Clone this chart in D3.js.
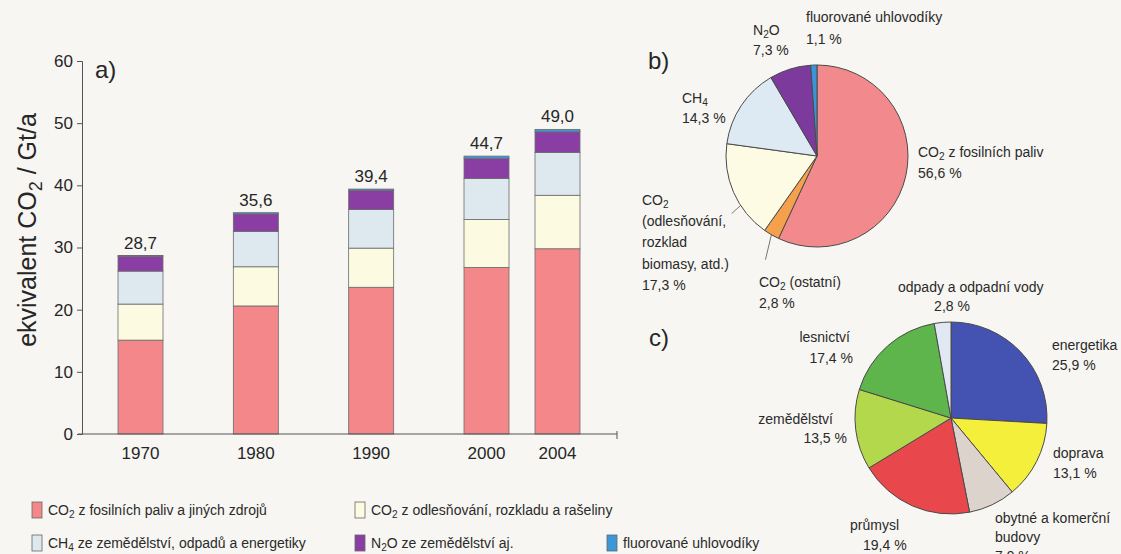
<!DOCTYPE html>
<html>
<head>
<meta charset="utf-8">
<script src="https://cdn.jsdelivr.net/npm/d3@7"></script>
<style>
  html, body { margin: 0; padding: 0; background: #f7f6f2; }
  svg { display: block; }
  .ax { font-family: "Liberation Sans", Arial, sans-serif; fill: #262626; }
  .nar { font-family: "Liberation Sans Narrow", "Liberation Sans", Arial, sans-serif; fill: #2a2a2a; }
</style>
</head>
<body>
<svg id="chart" width="1121" height="554"></svg>
<script>
// ---- a) yearly emissions, Gt CO2-eq per year ----
const years = [1970, 1980, 1990, 2000, 2004];
const co2Fossil = [15.1, 20.6, 23.6, 26.8, 29.8];
const co2Forest = [5.8, 6.3, 6.3, 7.7, 8.6];
const ch4Values = [5.3, 5.7, 6.2, 6.6, 6.9];
const n2oValues = [2.4, 2.8, 3.1, 3.2, 3.3];
const fgasValues = [0.1, 0.2, 0.2, 0.4, 0.4];
const yTicks = [0, 10, 20, 30, 40, 50, 60];

// ---- b) share of gases in 2004 (%) ----
const gasShares = [56.6, 2.8, 17.3, 14.3, 7.3, 1.1];

// ---- c) share of sectors in 2004 (%) ----
const sectorShares = [25.9, 13.1, 7.9, 19.4, 13.5, 17.4, 2.8];

const fmt = v => v.toFixed(1).replace(".", ",");
const pct = v => fmt(v) + " %";

const svg = d3.select("#chart");

// write a text made of parts; parts with sub:true are drawn as subscripts
function rich(sel, parts, size) {
  const shift = size * 0.22;
  let lowered = false;
  parts.forEach(p => {
    const ts = sel.append("tspan").text(p.t);
    if (p.sub) {
      ts.attr("font-size", size * 0.72).attr("dy", shift);
      lowered = true;
    } else if (lowered) {
      ts.attr("dy", -shift);
      lowered = false;
    }
  });
  return sel;
}

// ================= a) stacked bars =================
const barColors = ["#f4878a", "#fcfbe1", "#dde8ef", "#8a3ea4", "#3c97d8"];
const seriesList = [co2Fossil, co2Forest, ch4Values, n2oValues, fgasValues];
const rows = years.map((yr, i) => {
  const r = { year: yr };
  seriesList.forEach((s, k) => r["s" + k] = s[i]);
  return r;
});
const keys = seriesList.map((_, k) => "s" + k);
const stacked = d3.stack().keys(keys)(rows);

const y = d3.scaleLinear().domain([0, 60]).range([434, 61]);
// uneven spacing: equal steps for the decades, a shorter one for 2000 -> 2004
const x = d3.scaleLinear().domain([1970, 2000, 2004]).range([140.5, 486.5, 557.5]);
const barW = 45;

const gA = svg.append("g");
gA.selectAll("g.layer").data(stacked).join("g")
  .attr("class", "layer")
  .attr("fill", (d, i) => barColors[i])
  .selectAll("rect").data(d => d).join("rect")
  .attr("x", d => x(d.data.year) - barW / 2)
  .attr("width", barW)
  .attr("y", d => y(d[1]))
  .attr("height", d => y(d[0]) - y(d[1]))
  .attr("stroke", "#6b6b6b")
  .attr("stroke-width", 0.8);

// totals above the bars
gA.selectAll("text.total").data(rows).join("text")
  .attr("class", "ax total")
  .attr("x", d => x(d.year))
  .attr("y", d => y(d3.sum(keys, k => d[k])) - 7)
  .attr("text-anchor", "middle")
  .attr("font-size", 17)
  .text(d => fmt(d3.sum(keys, k => d[k])));

// y axis
const yAxis = d3.axisLeft(y).tickValues(yTicks).tickSize(5).tickPadding(4);
const gy = gA.append("g").attr("transform", "translate(82,0)").call(yAxis);
gy.select(".domain").attr("stroke", "#555");
gy.selectAll(".tick line").attr("stroke", "#555");
gy.selectAll(".tick text").attr("class", "ax").attr("font-size", 17).attr("fill", "#262626");

// x axis baseline with years
const gx = gA.append("g").attr("transform", "translate(0,434)");
gx.append("line").attr("x1", 78).attr("x2", 617).attr("stroke", "#555");
gx.append("line").attr("x1", 617).attr("x2", 617).attr("y1", -3).attr("y2", 5).attr("stroke", "#555");
gx.selectAll("text").data(years).join("text")
  .attr("class", "ax")
  .attr("x", d => x(d))
  .attr("y", 25)
  .attr("text-anchor", "middle")
  .attr("font-size", 17)
  .text(d => d);

// y title
const yTitle = gA.append("text").attr("class", "ax")
  .attr("transform", "translate(36,230) rotate(-90)")
  .attr("text-anchor", "middle")
  .attr("font-size", 25)
  .attr("fill", "#333");
rich(yTitle, [{ t: "ekvivalent CO" }, { t: "2", sub: true }, { t: "  /  Gt/a" }], 25);

gA.append("text").attr("class", "ax").attr("x", 95).attr("y", 78).attr("font-size", 24).text("a)");

// ================= b) gases pie =================
const gasColors = ["#f28a8d", "#f5a04d", "#fdfbe3", "#deeaf3", "#7d3a9d", "#3a95d8"];
const pieB = d3.pie().sort(null).value(d => d)(gasShares);
const rB = 91;
const cB = [817, 156];
const arcB = d3.arc().innerRadius(0).outerRadius(rB);
const gB = svg.append("g").attr("transform", `translate(${cB[0]},${cB[1]})`);
gB.selectAll("path").data(pieB).join("path")
  .attr("d", arcB)
  .attr("fill", (d, i) => gasColors[i])
  .attr("stroke", "#4a4a4a")
  .attr("stroke-width", 1);

// leader lines from the pie edge to the labels underneath
function edgePoint(d, frac, rad) {
  const a = d.startAngle + (d.endAngle - d.startAngle) * frac;
  return [Math.sin(a) * rad, -Math.cos(a) * rad];
}
const lead1 = edgePoint(pieB[1], 0.5, rB);
gB.append("line").attr("x1", lead1[0]).attr("y1", lead1[1])
  .attr("x2", lead1[0] - 6).attr("y2", lead1[1] + 25).attr("stroke", "#555").attr("stroke-width", 0.8);
const lead2 = edgePoint(pieB[2], 0.35, rB);
gB.append("line").attr("x1", lead2[0]).attr("y1", lead2[1])
  .attr("x2", lead2[0] - 9).attr("y2", lead2[1] + 8).attr("stroke", "#555").attr("stroke-width", 0.8);

svg.append("text").attr("class", "ax").attr("x", 648).attr("y", 69).attr("font-size", 24).text("b)");

const lsB = 14;
function label(lines, xPos, yPos, anchor, step, size) {
  const s = size || lsB;
  lines.forEach((ln, i) => {
    const t = svg.append("text").attr("class", "nar")
      .attr("x", xPos).attr("y", yPos + i * step)
      .attr("text-anchor", anchor || "start")
      .attr("font-size", s);
    rich(t, typeof ln === "string" ? [{ t: ln }] : ln, s);
  });
}
label([[{ t: "CO" }, { t: "2", sub: true }, { t: " z fosilních paliv" }], pct(gasShares[0])], 918, 157, "start", 21);
label([[{ t: "CO" }, { t: "2", sub: true }, { t: " (ostatní)" }], pct(gasShares[1])], 759, 287, "start", 21);
label([[{ t: "CO" }, { t: "2", sub: true }], "(odlesňování,", "rozklad", "biomasy, atd.)", pct(gasShares[2])], 642, 205, "start", 21.2);
label([[{ t: "CH" }, { t: "4", sub: true }], pct(gasShares[3])], 682, 103, "start", 20);
label([[{ t: "N" }, { t: "2", sub: true }, { t: "O" }], pct(gasShares[4])], 753, 35, "start", 19.5);
label(["fluorované uhlovodíky", pct(gasShares[5])], 806, 22, "start", 22);

// ================= c) sectors pie =================
const sectorColors = ["#4452b1", "#f4ef3a", "#dcd3cc", "#e8474b", "#b4d84c", "#5db54c", "#e0e9f1"];
const pieC = d3.pie().sort(null).value(d => d)(sectorShares);
const rC = 96;
const cC = [951, 418];
const arcC = d3.arc().innerRadius(0).outerRadius(rC);
const gC = svg.append("g").attr("transform", `translate(${cC[0]},${cC[1]})`);
gC.selectAll("path").data(pieC).join("path")
  .attr("d", arcC)
  .attr("fill", (d, i) => sectorColors[i])
  .attr("stroke", "#4a4a4a")
  .attr("stroke-width", 1);

svg.append("text").attr("class", "ax").attr("x", 649).attr("y", 346).attr("font-size", 24).text("c)");

label(["odpady a odpadní vody"], 898, 292, "start", 20);
label([pct(sectorShares[6])], 952, 311, "middle", 20);
label(["energetika", pct(sectorShares[0])], 1052, 350, "start", 19.5);
label(["lesnictví"], 850, 342, "end", 20);
label([pct(sectorShares[5])], 853, 363, "end", 20);
label(["zemědělství"], 833, 424, "end", 20);
label([pct(sectorShares[4])], 847, 443, "end", 20);
label(["doprava", pct(sectorShares[1])], 1053, 458, "start", 19.5);
label(["průmysl"], 850, 530, "start", 20);
label([pct(sectorShares[3])], 863, 550, "start", 20);
label(["obytné a komerční", "budovy", pct(sectorShares[2])], 995, 523, "start", 19);

// ================= legend =================
const legendItems = [
  { c: barColors[0], parts: [{ t: "CO" }, { t: "2", sub: true }, { t: " z fosilních paliv a jiných zdrojů" }], x: 32, y: 510 },
  { c: barColors[1], parts: [{ t: "CO" }, { t: "2", sub: true }, { t: " z odlesňování, rozkladu a rašeliny" }], x: 355, y: 510 },
  { c: barColors[2], parts: [{ t: "CH" }, { t: "4", sub: true }, { t: " ze zemědělství, odpadů a energetiky" }], x: 32, y: 543 },
  { c: barColors[3], parts: [{ t: "N" }, { t: "2", sub: true }, { t: "O ze zemědělství aj." }], x: 355, y: 543 },
  { c: barColors[4], parts: [{ t: "fluorované uhlovodíky" }], x: 607, y: 543 }
];
const gL = svg.append("g");
legendItems.forEach(it => {
  gL.append("rect").attr("x", it.x).attr("y", it.y - 8).attr("width", 10).attr("height", 16)
    .attr("fill", it.c).attr("stroke", "#666").attr("stroke-width", 0.8);
  const t = gL.append("text").attr("class", "nar").attr("x", it.x + 16).attr("y", it.y + 5).attr("font-size", 14);
  rich(t, it.parts, 14);
});
</script>
</body>
</html>
